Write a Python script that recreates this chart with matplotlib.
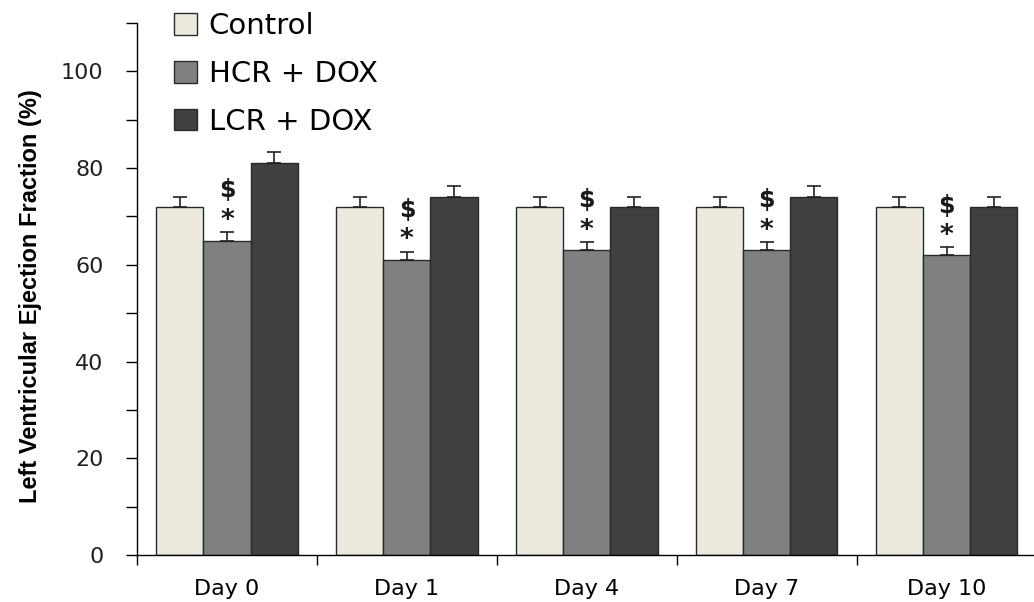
import numpy as np
import matplotlib
matplotlib.use('Agg')
import matplotlib.pyplot as plt

days = ['Day 0', 'Day 1', 'Day 4', 'Day 7', 'Day 10']
groups = ['Control', 'HCR + DOX', 'LCR + DOX']
control = [72, 72, 72, 72, 72]
control_err = [2.1, 2.1, 2.1, 2.1, 2.1]
hcr = [65, 61, 63, 63, 62]
hcr_err = [1.8, 1.7, 1.7, 1.7, 1.6]
lcr = [81, 74, 72, 74, 72]
lcr_err = [2.3, 2.2, 2.1, 2.2, 2.1]

colors = ['#ECE9DF', '#808080', '#404040']

plt.rcParams['font.family'] = ['DejaVu Sans']
fig = plt.figure(figsize=(10.34, 6.02), dpi=100)
ax = fig.add_axes([0.1325, 0.078, 0.87, 0.884])

x = np.arange(len(days))
w = 0.262
series = [(control, control_err), (hcr, hcr_err), (lcr, lcr_err)]
for i, (vals, errs) in enumerate(series):
    pos = x + (i - 1) * w
    ax.bar(pos, vals, w, color=colors[i], edgecolor='#2a2a2a', linewidth=1.0,
           label=groups[i], zorder=2)
    ax.errorbar(pos, vals, yerr=[np.zeros(len(vals)), errs], fmt='none',
                ecolor='#222222', elinewidth=1.2, capsize=5, capthick=1.2, zorder=3)

# significance marks over HCR bars
for j in range(len(days)):
    cap = hcr[j] + hcr_err[j]
    ax.text(x[j], cap + 0.9, '*', ha='center', va='baseline', fontsize=19,
            fontweight='bold', color='#1a1a1a')
    ax.text(x[j], cap + 7.2, '$', ha='center', va='baseline', fontsize=17,
            fontweight='bold', color='#1a1a1a')

ax.set_xlim(-0.5, len(days) - 0.5)
ax.set_ylim(0, 110)
ax.set_yticks(np.arange(0, 111, 10))
ax.set_yticklabels([str(v) if v % 20 == 0 and v <= 100 else '' for v in range(0, 111, 10)])
ax.set_xticks(np.arange(-0.5, len(days), 1.0))
ax.set_xticklabels([])
ax.set_xticks(x, minor=True)
ax.set_xticklabels(days, minor=True)
ax.tick_params(axis='x', which='minor', length=0, pad=17, labelsize=16)
ax.tick_params(axis='x', which='major', length=7, width=1, direction='out')
ax.tick_params(axis='y', length=8, width=1, direction='out', pad=16, labelsize=16,
               labelcolor='#222222')

for s in ['top', 'right']:
    ax.spines[s].set_visible(False)
ax.spines['left'].set_linewidth(1)
ax.spines['bottom'].set_linewidth(1)

ax.set_ylabel('Left Ventricular Ejection Fraction (%)', fontsize=17, fontweight='bold',
              family=['Liberation Sans', 'DejaVu Sans'], labelpad=12)
ax.yaxis.set_label_coords(-0.106, 0.487)

ax.legend(loc='upper left', bbox_to_anchor=(0.028, 1.042), frameon=False, fontsize=21,
          handlelength=0.8, handleheight=0.75, handletextpad=0.4, labelspacing=0.68,
          borderaxespad=0)

fig.savefig('out.png', dpi=100)
